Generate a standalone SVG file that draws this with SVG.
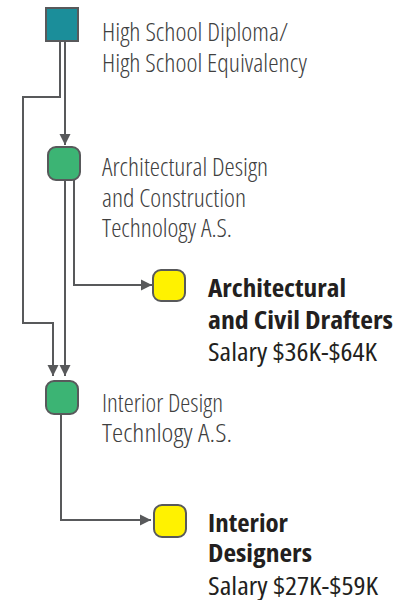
<svg xmlns="http://www.w3.org/2000/svg" width="409" height="600" viewBox="0 0 409 600">
<defs>
<marker id="arr" markerUnits="userSpaceOnUse" markerWidth="12" markerHeight="12" viewBox="0 0 12 12" refX="11" refY="6" orient="auto">
<path d="M0,0.5 L11,6 L0,11.5 Z" fill="#58595b"/>
</marker>
<style>
.lt{font-family:"Open Sans","Liberation Sans Narrow",sans-serif;font-weight:300;font-stretch:condensed;font-size:26.5px;fill:#404040}
.bd{font-family:"Open Sans","Liberation Sans",sans-serif;font-weight:700;font-stretch:semi-condensed;font-size:25px;fill:#231f20}
.sl{font-family:"Open Sans","Liberation Sans",sans-serif;font-weight:400;font-stretch:semi-condensed;font-size:25px;fill:#231f20}
.box{stroke:#58595b;stroke-width:2}
.cn{fill:none;stroke:#58595b;stroke-width:2}
</style>
</defs>
<rect width="409" height="600" fill="#fff"/>
<g id="connectors">
<path class="cn" d="M60,41 V97 H23 V323 H53 V376" marker-end="url(#arr)"/>
<path class="cn" d="M65,41 V145" marker-end="url(#arr)"/>
<path class="cn" d="M65,180 V376" marker-end="url(#arr)"/>
<path class="cn" d="M74,180 V285 H152" marker-end="url(#arr)"/>
<path class="cn" d="M61,414 V520 H151" marker-end="url(#arr)"/>
</g>
<g id="hs">
<rect class="box" x="46" y="8" width="32" height="33" fill="#1b8e9a"/>
<text class="lt" x="102" y="40.5" textLength="186" lengthAdjust="spacingAndGlyphs">High School Diploma/</text>
<text class="lt" x="102" y="71.5" textLength="205" lengthAdjust="spacingAndGlyphs">High School Equivalency</text>
</g>
<g id="arch">
<rect class="box" x="48" y="147" width="32" height="33" rx="8" fill="#3cb474"/>
<text class="lt" x="102" y="176" textLength="166" lengthAdjust="spacingAndGlyphs">Architectural Design</text>
<text class="lt" x="102" y="207" textLength="144" lengthAdjust="spacingAndGlyphs">and Construction</text>
<text class="lt" x="102" y="237" textLength="130" lengthAdjust="spacingAndGlyphs">Technology A.S.</text>
</g>
<g id="drafters">
<rect class="box" x="153" y="270" width="32" height="31" rx="8" fill="#fff200"/>
<text class="bd" x="208" y="296.5" textLength="138" lengthAdjust="spacingAndGlyphs">Architectural</text>
<text class="bd" x="208" y="328.5" textLength="185" lengthAdjust="spacingAndGlyphs">and Civil Drafters</text>
<text class="sl" x="208" y="360.5" textLength="169" lengthAdjust="spacingAndGlyphs">Salary $36K-$64K</text>
</g>
<g id="interior">
<rect class="box" x="46" y="381" width="32" height="33" rx="8" fill="#3cb474"/>
<text class="lt" x="102" y="412" textLength="121" lengthAdjust="spacingAndGlyphs">Interior Design</text>
<text class="lt" x="102" y="442" textLength="130" lengthAdjust="spacingAndGlyphs">Technlogy A.S.</text>
</g>
<g id="designers">
<rect class="box" x="154" y="505" width="32" height="32" rx="8" fill="#fff200"/>
<text class="bd" x="208" y="531.5" textLength="80" lengthAdjust="spacingAndGlyphs">Interior</text>
<text class="bd" x="208" y="562" textLength="104" lengthAdjust="spacingAndGlyphs">Designers</text>
<text class="sl" x="208" y="594.5" textLength="170" lengthAdjust="spacingAndGlyphs">Salary $27K-$59K</text>
</g>
</svg>
